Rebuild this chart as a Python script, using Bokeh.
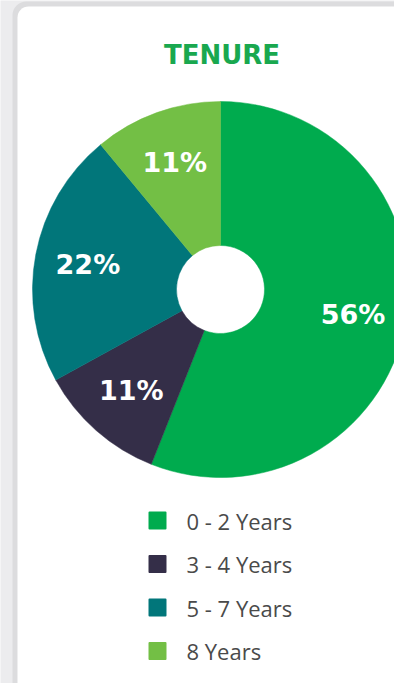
import math
from bokeh.plotting import figure
from bokeh.models import ColumnDataSource, Range1d, BoxAnnotation
from bokeh.core.properties import value
from bokeh.embed import file_html
from bokeh.resources import INLINE

# ---- data ----
categories = ["0 - 2 Years", "3 - 4 Years", "5 - 7 Years", "8 Years"]
percents = [56, 11, 22, 11]
pct_labels = ["56%", "11%", "22%", "11%"]
colors = ["#00ab4e", "#342e48", "#01767a", "#73bf45"]
title_text = "TENURE"

# ---- layout (pixels) ----
W, H = 394, 683
cx, cy = 220, H - 289
R_OUT, R_IN = 188, 44
LABEL_R = 135

p = figure(width=W, height=H, output_backend="svg", toolbar_location=None,
           x_range=Range1d(0, W), y_range=Range1d(0, H), min_border=0)
p.axis.visible = False
p.grid.visible = False
p.outline_line_color = None
p.background_fill_color = "#ececee"
p.border_fill_color = "#ececee"

# card
p.add_layout(BoxAnnotation(left=12, right=W + 40, top=H - 1, bottom=-40,
                           fill_color="#dcdcde", fill_alpha=1, line_color=None,
                           border_radius=14, level="underlay"))
p.add_layout(BoxAnnotation(left=17, right=W + 40, top=H - 6, bottom=-40,
                           fill_color="#ffffff", fill_alpha=1, line_color=None,
                           border_radius=11, level="underlay"))

total = sum(percents)
starts, ends, lx, ly = [], [], [], []
cum = 0.0
for v in percents:
    a0 = cum / total * 2 * math.pi
    cum += v
    a1 = cum / total * 2 * math.pi
    starts.append(math.pi / 2 - a1)
    ends.append(math.pi / 2 - a0)
    mid = math.pi / 2 - (a0 + a1) / 2
    lx.append(cx + LABEL_R * math.cos(mid))
    ly.append(cy + LABEL_R * math.sin(mid))

src = ColumnDataSource(dict(start=starts, end=ends, color=colors,
                            lx=lx, ly=ly, label=pct_labels))
p.annular_wedge(x=cx, y=cy, inner_radius=R_IN, outer_radius=R_OUT,
                start_angle="start", end_angle="end", color="color",
                line_color="color", line_width=0.5, source=src)
p.text(x="lx", y="ly", text="label", source=src, text_color="white",
       text_font=value("DejaVu Sans"), text_font_style="bold",
       text_font_size="27px", text_align="center", text_baseline="middle")

# title
p.text(x=[221.5], y=[H - 54], text=[title_text], text_color="#19a84f",
       text_font=value("DejaVu Sans"), text_font_style="bold",
       text_font_size="26px", text_align="center", text_baseline="middle")

# legend
leg_y = [H - (520 + 43.5 * i) for i in range(len(categories))]
lsrc = ColumnDataSource(dict(y=leg_y, color=colors, name=categories))
p.scatter(x=157, y="y", marker="square", size=16, fill_color="color",
          line_color="color", line_width=2, line_join="round", source=lsrc)
p.text(x=186, y="y", text="name", source=lsrc, text_color="#4a4a4a",
       text_font=value("Open Sans"), text_font_size="22px",
       text_align="left", text_baseline="middle")

open("out.html", "w").write(file_html(p, INLINE))
